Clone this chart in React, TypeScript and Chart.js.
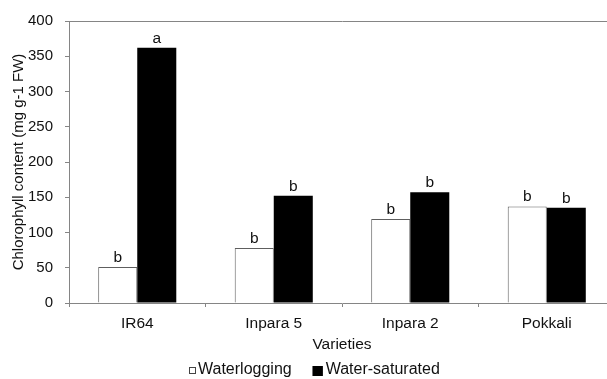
import React, { useEffect, useRef } from "react";
import { Chart, registerables } from "chart.js";

Chart.register(...registerables);

const categories = ["IR64", "Inpara 5", "Inpara 2", "Pokkali"];
const waterlogging = [51, 78, 119, 137];
const waterSaturated = [362, 152, 157, 135];
const waterloggingLetters = ["b", "b", "b", "b"];
const waterSaturatedLetters = ["a", "b", "b", "b"];
const seriesNames = ["Waterlogging", "Water-saturated"];

const FONT = "'Liberation Sans', Arial, sans-serif";
const AXIS = "#858585";
const TEXT = "#111";

const letterPlugin = {
  id: "letters",
  afterDatasetsDraw(chart: any) {
    const ctx = chart.ctx;
    const letters = [waterloggingLetters, waterSaturatedLetters];
    ctx.save();
    ctx.font = `15.5px ${FONT}`;
    ctx.fillStyle = TEXT;
    ctx.textAlign = "center";
    ctx.textBaseline = "alphabetic";
    chart.data.datasets.forEach((_: any, di: number) => {
      const meta = chart.getDatasetMeta(di);
      meta.data.forEach((bar: any, i: number) => {
        ctx.fillText(letters[di][i], bar.x, bar.y - 5);
      });
    });
    ctx.restore();
  },
};

// Legend drawn by hand so box sizes and gaps match the reference
const legendPlugin = {
  id: "customLegend",
  afterDraw(chart: any) {
    const ctx = chart.ctx;
    const boxes = [7, 10];
    const gaps = [2, 3];
    const itemGap = 21;
    ctx.save();
    ctx.font = `16px ${FONT}`;
    const items = chart.data.datasets.map((ds: any, i: number) => ({
      text: ds.label,
      fill: ds.backgroundColor,
      stroke: ds.borderWidth > 0 ? "#444" : ds.backgroundColor,
      box: boxes[i],
      gap: gaps[i],
      w: boxes[i] + gaps[i] + ctx.measureText(ds.label).width,
    }));
    const total = items.reduce((s: number, it: any) => s + it.w, 0) + itemGap * (items.length - 1);
    let x = Math.round(chart.width / 2 - total / 2);
    const cy = chart.height - 8.5;
    ctx.textBaseline = "middle";
    ctx.textAlign = "left";
    items.forEach((it: any) => {
      const top = Math.round(cy - it.box / 2);
      ctx.fillStyle = it.fill;
      ctx.fillRect(x, top, it.box, it.box);
      ctx.strokeStyle = it.stroke;
      ctx.lineWidth = 1;
      ctx.strokeRect(x + 0.5, top + 0.5, it.box - 1, it.box - 1);
      ctx.fillStyle = TEXT;
      ctx.fillText(it.text, x + it.box + it.gap, cy - 1);
      x += it.w + itemGap;
    });
    ctx.restore();
  },
};

export default function App() {
  const ref = useRef<HTMLCanvasElement | null>(null);
  useEffect(() => {
    if (!ref.current) return;
    Chart.defaults.font.family = FONT;
    Chart.defaults.color = TEXT;
    const chart = new Chart(ref.current, {
      type: "bar",
      data: {
        labels: categories,
        datasets: [
          {
            label: seriesNames[0],
            data: waterlogging,
            backgroundColor: "#ffffff",
            borderColor: "#5e5e5e",
            borderWidth: 1,
            categoryPercentage: 0.572,
            barPercentage: 1,
          },
          {
            label: seriesNames[1],
            data: waterSaturated,
            backgroundColor: "#000000",
            borderColor: "#000000",
            borderWidth: 0,
            categoryPercentage: 0.572,
            barPercentage: 1,
          },
        ],
      },
      options: {
        responsive: false,
        animation: false,
        devicePixelRatio: 1,
        layout: { padding: { left: 0, top: 21, right: 13, bottom: 23 } },
        plugins: {
          tooltip: { enabled: false },
          legend: { display: false },
        },
        scales: {
          x: {
            offset: true,
            grid: {
              display: true,
              offset: true,
              color: "transparent",
              tickColor: AXIS,
              tickLength: 4,
              drawOnChartArea: false,
            },
            border: { display: true, color: AXIS, width: 1 },
            ticks: { font: { size: 15.5 }, padding: 7, color: TEXT },
            title: {
              display: true,
              text: "Varieties",
              font: { size: 15.5 },
              color: TEXT,
              padding: { top: 0, bottom: 2 },
            },
            afterFit: (s: any) => {
              s.height = 53;
            },
          },
          y: {
            min: 0,
            max: 400,
            ticks: { stepSize: 50, font: { size: 15 }, padding: 12, color: TEXT },
            grid: {
              color: (c: any) => (c.tick && c.tick.value === 400 ? AXIS : "transparent"),
              tickColor: AXIS,
              tickLength: 4,
            },
            border: { display: true, color: AXIS, width: 1 },
            title: {
              display: true,
              text: "Chlorophyll content (mg g-1 FW)",
              font: { size: 15 },
              color: TEXT,
              padding: { top: 10, bottom: 0 },
            },
            afterFit: (s: any) => {
              s.width = 69;
            },
          },
        },
      },
      plugins: [letterPlugin, legendPlugin],
    });
    return () => chart.destroy();
  }, []);
  return (
    <div style={{ position: "absolute", left: 0, top: 0, width: 607, height: 379, overflow: "hidden", background: "#fff" }}>
      <canvas ref={ref} width={628} height={379} style={{ display: "block" }} />
    </div>
  );
}
